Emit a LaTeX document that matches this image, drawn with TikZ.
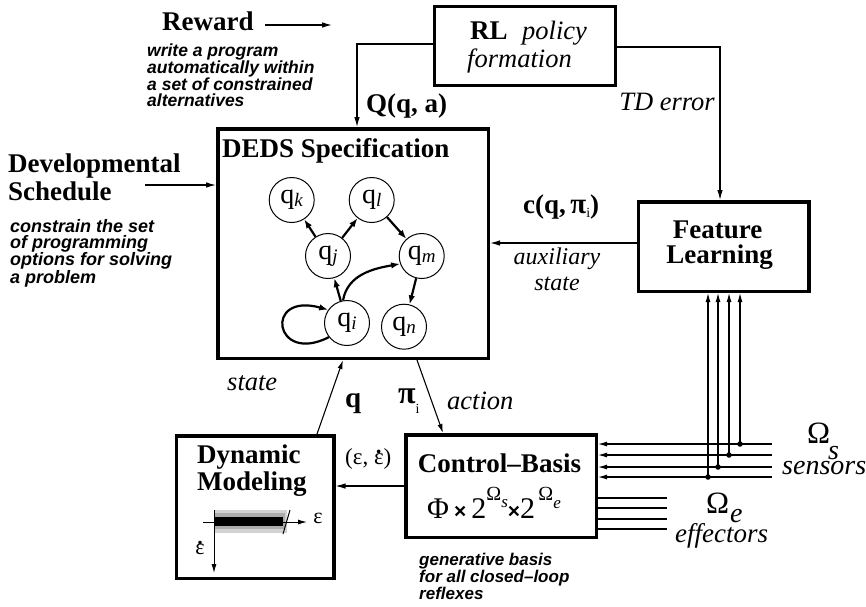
\documentclass[tikz,border=0pt]{standalone}
\usepackage{fontspec}
\setmainfont{Liberation Serif}
\setsansfont{Liberation Sans}
\usetikzlibrary{arrows.meta}
\newcommand\epsdot{\ooalign{ε\cr\hidewidth\raisebox{.45em}{\bfseries .}\hidewidth\cr}}
\newcommand\fsz[1]{\fontsize{#1}{#1}\selectfont}
\begin{document}
\begin{tikzpicture}[x=1pt,y=1pt,
  box/.style={draw, line width=3.5pt, inner sep=0pt},
  bf/.style={font=\fsz{27}\bfseries, inner sep=0pt},
  itl/.style={font=\fsz{26.5}\itshape, inner sep=0pt},
  rm/.style={font=\fsz{23}, inner sep=0pt},
  note/.style={align=left, inner sep=0pt},
  conn/.style={line width=1.1pt, -{Latex[length=10pt,width=5.5pt]}},
  plain/.style={line width=1.1pt},
  gedge/.style={line width=2.2pt, -{Latex[length=9pt,width=6.5pt]}},
  st/.style={circle, draw, line width=1pt, minimum size=45pt, inner sep=0pt, font=\fsz{28}},
  dot/.style={circle, fill, inner sep=0pt, minimum size=5.5pt}
]
\useasboundingbox (0,0) rectangle (866,-606);

% ---------- boxes ----------
\node[box, minimum width=181pt, minimum height=79pt] (rl) at (525,-46) {};
\node[box, minimum width=270.5pt, minimum height=229.5pt] (deds) at (353,-243.5) {};
\node[box, minimum width=170.5pt, minimum height=89.5pt] (feat) at (723.5,-246.5) {};
\node[box, minimum width=190.5pt, minimum height=102.5pt] (ctrl) at (501,-486) {};
\node[box, minimum width=157.5pt, minimum height=142.5pt] (dyn) at (255,-507) {};

% ---------- texts ----------
\node[bf, anchor=base west] (reward) at (162,-30) {Reward};
\node[note, anchor=north west, font=\fontsize{17.5}{16.7}\selectfont\sffamily\bfseries\itshape] (rwnote) at (147,-44)
  {write a program\\automatically within\\a set of constrained\\alternatives};
\node[bf, anchor=base west] (rltxt) at (470,-39) {RL};
\node[itl, anchor=base west] (policy) at (522,-39) {policy};
\node[itl, anchor=base west] (formation) at (467,-67) {formation};
\node[bf, anchor=base west] (qa) at (366,-112) {Q(q, a)};
\node[itl, anchor=base east] (tderr) at (715,-110) {TD error};
\node[bf, anchor=base west] (devl) at (8,-172) {Developmental};
\node[bf, anchor=base west] (sched) at (8,-200) {Schedule};
\node[note, anchor=north west, font=\fontsize{18}{15.8}\selectfont\sffamily\bfseries\itshape] (schnote) at (10,-219)
  {constrain the set\\of programming\\options for solving\\a problem};
\node[bf, anchor=base west] (dedstitle) at (222,-157) {DEDS Specification};
\node[bf, anchor=base west] (cq) at (523,-213) {c(q,\,{\fsz{29}π}\raisebox{-4pt}{\mdseries\fsz{14}i})};
\node[itl, anchor=base, font=\fsz{24}\itshape] (aux) at (557,-264) {auxiliary};
\node[itl, anchor=base, font=\fsz{24}\itshape] (auxst) at (557,-290) {state};
\node[bf, anchor=base] (feattxt) at (717.5,-238) {Feature};
\node[bf, anchor=base] (learntxt) at (719.5,-263) {Learning};
\node[itl, anchor=base west] (statelbl) at (227,-390) {state};
\node[bf, anchor=base west, font=\fsz{29}\bfseries] (qlbl) at (345,-407) {q};
\node[anchor=base west, inner sep=0pt, font=\fsz{32}\bfseries] (pilbl) at (398,-403) {π\raisebox{-10pt}{\mdseries\fsz{14}i}};
\node[itl, anchor=base west] (actlbl) at (447,-409) {action};
\node[bf, anchor=base] (ctrltxt) at (499.5,-472) {Control–Basis};
\node[anchor=base west, inner sep=0pt, font=\fsz{30}] (formula) at (427,-518)
  {Φ\,{\sffamily\bfseries\fsz{21}×}\,2\raisebox{18pt}{\fsz{20}Ω\raisebox{-7pt}{\itshape\fsz{17}s}}{\sffamily\bfseries\fsz{21}×}2\raisebox{18pt}{\fsz{20}\,Ω\raisebox{-8pt}{\itshape\fsz{17}e}}};
\node[note, anchor=north west, font=\fontsize{17}{17}\selectfont\sffamily\bfseries\itshape] (ctrlnote) at (419,-553)
  {generative basis\\for all closed–loop\\reflexes};
\node[bf, anchor=base west] (dyntxt) at (197,-463) {Dynamic};
\node[bf, anchor=base west] (modtxt) at (197,-490) {Modeling};
\node[rm, anchor=base west] (eelbl) at (345,-464) {(ε, \epsdot)};
\node[anchor=base west, inner sep=0pt, font=\fsz{31}] (oms) at (807,-443) {Ω};
\node[anchor=base west, inner sep=0pt, font=\fsz{28}\itshape] (omss) at (828,-459) {s};
\node[anchor=base west, inner sep=0pt, font=\fsz{28}\itshape] (sens) at (782,-474) {sensors};
\node[anchor=base west, inner sep=0pt, font=\fsz{31}] (ome) at (706,-513) {Ω};
\node[anchor=base west, inner sep=0pt, font=\fsz{28}\itshape] (omee) at (730,-522) {e};
\node[anchor=base west, inner sep=0pt, font=\fsz{27}\itshape] (effs) at (675,-542) {effectors};

% ---------- connectors ----------
\coordinate (rwA) at (265,-25);
\coordinate (rwB) at (332,-25);
\draw[conn] (rwA) -- (rwB);
\coordinate (xq) at (357,0);
\draw[conn] ([yshift=2pt]rl.west) -| (deds.north -| xq);
\coordinate (xtd) at (720,0);
\draw[conn] ([yshift=-1pt]rl.east) -| (feat.north -| xtd);
\coordinate (devA) at (145,-185);
\draw[conn] (devA) -- (deds.west |- devA);
\coordinate (yc) at (0,-243);
\draw[conn] (feat.west |- yc) -- (deds.east |- yc);
\coordinate (qA) at (317,0);
\coordinate (qB) at (343,0);
\draw[plain, -{Latex[length=9pt,width=5pt]}] (dyn.north -| qA) -- (deds.south -| qB);
\coordinate (pA) at (417,0);
\coordinate (pB) at (443,0);
\draw[plain, -{Latex[length=9pt,width=5pt]}] (deds.south -| pA) -- (ctrl.north -| pB);
\coordinate (ye) at (0,-486);
\draw[conn] (ctrl.west |- ye) -- (dyn.east |- ye);

\foreach \y/\x [count=\i] in {444/740,455/729,467/718,477/708}{
  \coordinate (s\i) at (772,-\y);
  \node[dot] (d\i) at (\x,-\y) {};
  \draw[plain, -{Latex[length=9pt,width=5pt]}] (s\i) -- (ctrl.east |- s\i);
  \draw[plain, -{Latex[length=9pt,width=5pt]}] (d\i.center) -- (feat.south -| d\i);
}
\foreach \y [count=\i] in {498,508,519,529}{
  \coordinate (e\i) at (667,-\y);
  \draw[plain] (ctrl.east |- e\i) -- (e\i);
}

% ---------- state graph ----------
\node[st] (qk) at (291.7,-200) {q\raisebox{-3pt}{\itshape\fsz{19}k}};
\node[st] (ql) at (371.7,-200) {q\raisebox{-3pt}{\itshape\fsz{19}l}};
\node[st] (qj) at (328,-256) {q\raisebox{-3pt}{\itshape\fsz{19}j}};
\node[st] (qm) at (421.7,-256) {q\raisebox{-3pt}{\itshape\fsz{19}m}};
\node[st] (qi) at (347,-323) {q\raisebox{-3pt}{\itshape\fsz{19}i}};
\node[st] (qn) at (404,-326.7) {q\raisebox{-3pt}{\itshape\fsz{19}n}};
\draw[gedge] (qj) -- (qk);
\draw[gedge] (qj) -- (ql);
\draw[gedge] (ql) -- (qm);
\draw[gedge] (qm) -- (qn);
\draw[gedge] (qi) -- (qj);
\draw[gedge] (qi.100) to[out=80,in=190] (qm.200);
\draw[gedge] (qi.218) .. controls +(-55,-28) and +(-65,18) .. (qi.145);

% ---------- dynamic modeling sketch ----------
\fill[gray!35] (214,-510) rectangle (287,-533);
\fill[gray!65] (214,-513) rectangle (285,-529);
\fill[black] (214,-517) rectangle (283,-526);
\draw[line width=1pt] (283,-534) -- (290,-510);
\draw[line width=1pt, -{Latex[length=9pt,width=5pt]}] (203,-522) -- (307,-522);
\draw[line width=1pt, -{Latex[length=9pt,width=5pt]}] (214,-510) -- (214,-573);
\node[inner sep=0pt, font=\fsz{22}] (epsx) at (318,-518) {ε};
\node[inner sep=0pt, font=\fsz{22}] (epsy) at (200,-549) {\epsdot};
\end{tikzpicture}
\end{document}
